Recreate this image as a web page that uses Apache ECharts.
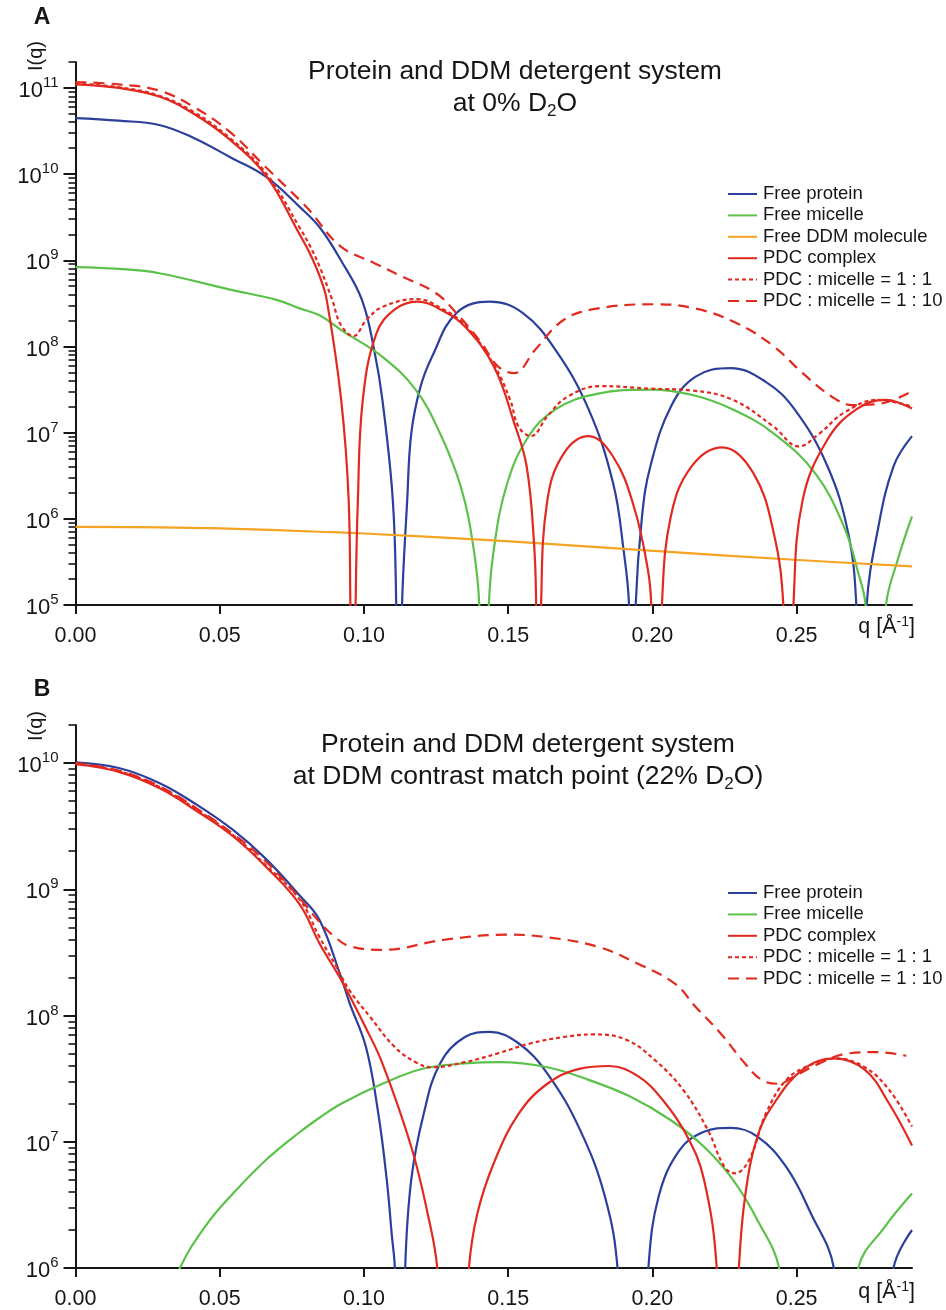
<!DOCTYPE html>
<html><head><meta charset="utf-8">
<script src="https://cdn.jsdelivr.net/npm/echarts@6/dist/echarts.min.js"></script>
<style>html,body{margin:0;padding:0;background:#fff}#c{width:946px;height:1310px}</style>
</head><body><div id="c"></div>
<script>
// ---------- axis tick definitions ----------
const xTicks = [0, 0.05, 0.10, 0.15, 0.20, 0.25];
const yExpA = [5, 6, 7, 8, 9, 10, 11];
const yExpB = [6, 7, 8, 9, 10];

// ---------- Panel A : 0% D2O ----------
const qA_protein = [0,0.015,0.029,0.041,0.0535,0.066,0.0777,0.0847,0.092,0.0993,0.1036,0.1064,0.110,0.1112,0.1121,0.1132,0.115,0.1164,0.1195,0.1236,0.1321,0.1436,0.155,0.1664,0.1779,0.1864,0.190,0.1919,0.193,0.1942,0.1964,0.1993,0.2064,0.215,0.2271,0.2393,0.2493,0.2607,0.2679,0.2707,0.2725,0.2743,0.2779,0.2836,0.29];
const iA_protein = [4.47e10,4.17e10,3.72e10,2.63e10,1.58e10,9.33e9,4.17e9,2.40e9,1.0e9,3.47e8,8.9e7,2.4e7,1.66e6,1e5,1e3,1e5,1.66e6,9.77e6,3.31e7,7.59e7,2.45e8,3.31e8,2.45e8,9.12e7,1.86e7,2.57e6,4.37e5,1e5,1e3,1e5,1.07e6,4.07e6,2.0e7,4.47e7,5.62e7,3.89e7,1.86e7,4.07e6,6.76e5,1e5,1e3,1e5,6.76e5,4.07e6,9.12e6];

const qA_micelle = [0,0.015,0.029,0.0535,0.0697,0.0779,0.0846,0.0921,0.1064,0.1179,0.1264,0.1336,0.1379,0.140,0.1417,0.1433,0.145,0.1493,0.1564,0.1664,0.1807,0.1993,0.2136,0.2279,0.2421,0.2564,0.2664,0.2714,0.2739,0.2775,0.281,0.285,0.29];
const iA_micelle = [8.32e8,7.94e8,7.08e8,4.57e8,3.47e8,2.75e8,2.30e8,1.55e8,7.59e7,3.16e7,9.77e6,2.34e6,4.79e5,1e5,1e3,1e5,4.37e5,2.34e6,8.32e6,1.86e7,2.82e7,3.16e7,2.75e7,1.86e7,9.77e6,3.39e6,8.13e5,2.34e5,1e5,1e3,1e5,3.31e5,1.07e6];

const qA_ddm = [0,0.03,0.05,0.0846,0.10,0.1493,0.1993,0.2493,0.29];
const iA_ddm = [8.07e5,7.94e5,7.76e5,7.08e5,6.76e5,5.50e5,4.27e5,3.35e5,2.80e5];

const qA_pdc = [0,0.015,0.029,0.041,0.0535,0.0663,0.0777,0.0811,0.0847,0.0871,0.0921,0.0947,0.0953,0.0962,0.0971,0.0979,0.0996,0.1043,0.1107,0.1185,0.127,0.135,0.145,0.1521,0.1564,0.159,0.1597,0.1605,0.1614,0.1636,0.1693,0.1779,0.1864,0.1936,0.1985,0.1996,0.2015,0.2033,0.2064,0.2136,0.2243,0.235,0.2421,0.2454,0.2471,0.2489,0.2521,0.2607,0.2707,0.2807,0.29];
const iA_pdc = [1.10e11,1.0e11,7.94e10,5.01e10,2.51e10,9.33e9,2.0e9,1.23e9,6.46e8,3.47e8,2.4e7,1.66e6,1e5,1e3,1e5,1.66e6,2.4e7,1.41e8,2.69e8,3.31e8,2.63e8,1.70e8,5.89e7,1.29e7,4.07e6,5.0e5,1e5,1e3,1e5,1.66e6,5.75e6,9.12e6,5.25e6,1.38e6,2.5e5,1e5,1e3,1e5,1.07e6,4.07e6,6.76e6,3.39e6,6.76e5,1e5,1e3,1e5,1.66e6,8.32e6,1.86e7,2.40e7,1.91e7];

const qA_pdc11 = [0,0.015,0.029,0.041,0.0535,0.0663,0.0777,0.0811,0.0847,0.089,0.092,0.0964,0.1007,0.1064,0.1185,0.127,0.135,0.145,0.1507,0.1536,0.1579,0.1636,0.1707,0.1821,0.1993,0.2136,0.2279,0.2421,0.2507,0.2579,0.2664,0.2779,0.29];
const iA_pdc11 = [1.12e11,1.02e11,8.13e10,5.25e10,2.63e10,1.0e10,2.40e9,1.51e9,8.32e8,3.47e8,1.78e8,1.32e8,2.0e8,2.88e8,3.55e8,2.75e8,1.78e8,6.17e7,2.40e7,1.17e7,9.12e6,1.55e7,2.63e7,3.47e7,3.24e7,3.09e7,2.40e7,1.17e7,6.92e6,9.77e6,1.70e7,2.40e7,2.0e7];

const qA_pdc110 = [0,0.015,0.029,0.041,0.0535,0.066,0.0777,0.0811,0.0919,0.1035,0.1133,0.1249,0.132,0.1407,0.1464,0.1521,0.1593,0.1693,0.1807,0.2007,0.215,0.2293,0.2421,0.2521,0.2621,0.2693,0.2779,0.29];
const iA_pdc110 = [1.17e11,1.10e11,9.33e10,6.03e10,3.09e10,1.20e10,5.01e9,3.80e9,1.45e9,9.33e8,6.46e8,4.17e8,2.45e8,1.10e8,5.89e7,4.90e7,9.12e7,2.04e8,2.75e8,3.09e8,2.75e8,1.86e8,1.0e8,4.90e7,2.63e7,2.09e7,2.14e7,3.02e7];

// ---------- Panel B : 22% D2O ----------
const qB_protein = [0,0.015,0.0292,0.042,0.0546,0.066,0.0777,0.0846,0.0921,0.095,0.1007,0.105,0.1079,0.1097,0.1107,0.1125,0.1143,0.1164,0.1207,0.1264,0.135,0.1436,0.1536,0.1636,0.175,0.1836,0.1879,0.1929,0.1986,0.2021,0.2093,0.2179,0.2271,0.2364,0.2464,0.255,0.2629,0.273,0.2836,0.29];
const iB_protein = [1.01e10,9.12e9,6.92e9,4.68e9,2.95e9,1.74e9,8.91e8,5.70e8,2.0e8,1.26e8,5.62e7,1.66e7,5.01e6,1.78e6,1e6,1e4,1e6,5.01e6,1.66e7,4.17e7,6.76e7,7.41e7,6.03e7,3.47e7,1.23e7,3.63e6,1e6,1e4,1e6,3.63e6,8.51e6,1.20e7,1.29e7,1.10e7,6.31e6,2.69e6,1e6,1e4,1e6,2.0e6];

const qB_micelle = [0.03,0.0362,0.045,0.0546,0.0662,0.0779,0.0846,0.0921,0.1064,0.1207,0.135,0.1471,0.1636,0.1779,0.1921,0.2064,0.2179,0.2279,0.2364,0.2439,0.2575,0.2714,0.2807,0.29];
const iB_micelle = [4.0e5,1e6,2.14e6,3.89e6,7.24e6,1.2e7,1.55e7,2.0e7,2.88e7,3.80e7,4.17e7,4.27e7,3.89e7,3.09e7,2.29e7,1.48e7,9.12e6,5.01e6,2.40e6,1e6,1e4,1e6,2.14e6,3.89e6];

const qB_pdc = [0,0.015,0.0292,0.042,0.0546,0.066,0.0777,0.0846,0.0921,0.1007,0.1064,0.1164,0.1221,0.1254,0.131,0.1364,0.1393,0.145,0.1536,0.1636,0.175,0.185,0.195,0.2036,0.2121,0.2179,0.2223,0.226,0.2300,0.2321,0.2364,0.2421,0.2521,0.2629,0.2736,0.2821,0.29];
const iB_pdc = [9.77e9,8.51e9,6.31e9,4.17e9,2.63e9,1.51e9,7.59e8,3.72e8,1.91e8,7.94e7,4.17e7,9.12e6,2.69e6,1e6,1e4,1e6,2.69e6,6.76e6,1.66e7,2.88e7,3.80e7,3.98e7,3.31e7,2.14e7,1.10e7,5.01e6,1e6,1e4,1e6,3.63e6,1.10e7,2.0e7,3.72e7,4.57e7,3.72e7,2.0e7,9.33e6];

const qB_pdc11 = [0,0.015,0.0292,0.042,0.0546,0.066,0.0777,0.0846,0.0901,0.095,0.1021,0.1107,0.1179,0.1236,0.135,0.1464,0.1579,0.1693,0.1793,0.1907,0.2007,0.2107,0.2193,0.225,0.2286,0.2336,0.2393,0.2464,0.255,0.2636,0.2736,0.2821,0.29];
const iB_pdc11 = [9.89e9,8.61e9,6.46e9,4.27e9,2.69e9,1.55e9,8.32e8,4.17e8,2.51e8,1.58e8,9.77e7,5.62e7,4.27e7,3.89e7,4.27e7,5.01e7,6.03e7,6.76e7,7.08e7,6.46e7,4.47e7,2.57e7,1.23e7,6.31e6,5.62e6,7.24e6,1.66e7,3.09e7,4.07e7,4.57e7,3.89e7,2.57e7,1.32e7];

const qB_pdc110 = [0,0.015,0.0292,0.042,0.0546,0.066,0.0777,0.0846,0.09,0.0949,0.1063,0.1278,0.1493,0.1635,0.181,0.195,0.2079,0.215,0.2236,0.2321,0.2379,0.2436,0.2493,0.2579,0.2679,0.2779,0.288];
const iB_pdc110 = [1.0e10,8.71e9,6.53e9,4.37e9,2.75e9,1.66e9,8.51e8,5.50e8,4.17e8,3.55e8,3.31e8,3.98e8,4.37e8,4.17e8,3.51e8,2.57e8,1.78e8,1.17e8,7.24e7,4.17e7,3.09e7,2.88e7,3.31e7,4.17e7,5.01e7,5.13e7,4.79e7];

// ---------- styling ----------
const FONT = '"Liberation Sans", Arial, Helvetica, sans-serif';
const INK = '#161616';
const C_BLUE = '#2b3f9c', C_GREEN = '#5cc14a', C_ORANGE = '#f5a322', C_RED = '#e2291f';
const DOT = [4, 3], DASH = [11, 7];

function pairs(q, v) { return q.map((x, i) => [x, v[i]]); }

function logAxes(gridIndex, exps, maxV) {
  const majors = exps.map(e => Math.pow(10, e));
  const minV = majors[0];
  const minors = [];
  exps.forEach(e => { for (let m = 2; m <= 9; m++) { const v = m * Math.pow(10, e); if (v <= maxV) minors.push(v); } });
  return [{
    type: 'log', logBase: 10, gridIndex, min: minV, max: maxV, position: 'left',
    axisLine: { show: true, onZero: false, lineStyle: { color: INK, width: 2 } },
    axisTick: { show: true, length: 12, lineStyle: { color: INK, width: 2 }, customValues: majors },
    axisLabel: {
      show: true, customValues: majors, margin: 17, color: INK,
      formatter: v => '{b|10}{s|' + Math.round(Math.log10(v)) + '}',
      rich: {
        b: { fontSize: 22, fontFamily: FONT, color: INK, lineHeight: 25, padding: [6, 0, 0, 0] },
        s: { fontSize: 15, fontFamily: FONT, color: INK, lineHeight: 15, verticalAlign: 'top' }
      }
    },
    splitLine: { show: false }, minorTick: { show: false }
  }, {
    type: 'log', logBase: 10, gridIndex, min: minV, max: maxV, position: 'left',
    axisLine: { show: false, onZero: false },
    axisTick: { show: true, length: 7, lineStyle: { color: INK, width: 1.6 }, customValues: minors },
    axisLabel: { show: false }, splitLine: { show: false }, minorTick: { show: false }
  }];
}

function xAxis(gridIndex) {
  return {
    type: 'value', gridIndex, min: 0, max: 0.29,
    axisLine: { show: true, onZero: false, lineStyle: { color: INK, width: 2 } },
    axisTick: { show: true, length: 9, lineStyle: { color: INK, width: 2 }, customValues: xTicks },
    axisLabel: { customValues: xTicks, formatter: v => v.toFixed(2), fontSize: 21.5, fontFamily: FONT, color: INK, margin: 20 },
    splitLine: { show: false }
  };
}

function line(name, data, xi, yi, color, type) {
  return {
    type: 'line', name, data, xAxisIndex: xi, yAxisIndex: yi, symbol: 'none',
    smooth: 0.4, clip: true, silent: true,
    lineStyle: { color, width: 2.2, type: type || 'solid' },
    itemStyle: { color }
  };
}

const N_PROT = 'Free protein', N_MIC = 'Free micelle', N_DDM = 'Free DDM molecule', N_PDC = 'PDC complex',
      N_11 = 'PDC : micelle = 1 : 1', N_110 = 'PDC : micelle = 1 : 10';

const series = [
  line(N_PROT, pairs(qA_protein, iA_protein), 0, 0, C_BLUE),
  line(N_MIC, pairs(qA_micelle, iA_micelle), 0, 0, C_GREEN),
  line(N_DDM, pairs(qA_ddm, iA_ddm), 0, 0, C_ORANGE),
  line(N_PDC, pairs(qA_pdc, iA_pdc), 0, 0, C_RED),
  line(N_11, pairs(qA_pdc11, iA_pdc11), 0, 0, C_RED, DOT),
  line(N_110, pairs(qA_pdc110, iA_pdc110), 0, 0, C_RED, DASH),
  line(N_PROT, pairs(qB_protein, iB_protein), 1, 2, C_BLUE),
  line(N_MIC, pairs(qB_micelle, iB_micelle), 1, 2, C_GREEN),
  line(N_PDC, pairs(qB_pdc, iB_pdc), 1, 2, C_RED),
  line(N_11, pairs(qB_pdc11, iB_pdc11), 1, 2, C_RED, DOT),
  line(N_110, pairs(qB_pdc110, iB_pdc110), 1, 2, C_RED, DASH)
];

function legend(top, names) {
  return {
    orient: 'vertical', left: 722, top, data: names, selectedMode: false,
    itemWidth: 29, itemHeight: 14, itemGap: 0,
    itemStyle: { opacity: 0 },
    textStyle: { fontSize: 18.5, fontFamily: FONT, color: INK, lineHeight: 21.4, padding: [0, 0, 0, 1] }
  };
}

function txt(x, y, text, size, opts) {
  return Object.assign({
    type: 'text', x, y, silent: true,
    style: Object.assign({ text, fontSize: size, fontFamily: FONT, fill: INK, align: 'center', verticalAlign: 'middle' }, (opts && opts.style) || {})
  }, (opts && opts.el) || {});
}

const supRich = { s: { fontSize: 14, fontFamily: FONT, fill: INK, lineHeight: 14, verticalAlign: 'top' }, b: { fontSize: 21.5, fontFamily: FONT, fill: INK, lineHeight: 24 } };
const titleRich = {
  t: { fontSize: 26.5, fontFamily: FONT, fill: INK, lineHeight: 32 },
  d: { fontSize: 17, fontFamily: FONT, fill: INK, lineHeight: 17, verticalAlign: 'bottom' }
};

const graphic = [
  txt(42, 18, 'A', 23, { style: { fontWeight: 'bold' } }),
  txt(42, 690, 'B', 23, { style: { fontWeight: 'bold' } }),
  txt(36, 56, 'I(q)', 20, { el: { rotation: Math.PI / 2 } }),
  txt(36, 726, 'I(q)', 20, { el: { rotation: Math.PI / 2 } }),
  txt(515, 88, '{t|Protein and DDM detergent system}\n{t|at 0% D}{d|2}{t|O}', 26.5, { style: { rich: titleRich } }),
  txt(528, 761, '{t|Protein and DDM detergent system}\n{t|at DDM contrast match point (22% D}{d|2}{t|O)}', 26.5, { style: { rich: titleRich } }),
  txt(915, 627, '{b|q [Å}{s|-1}{b|]}', 21.5, { style: { rich: supRich, align: 'right' } }),
  txt(915, 1292, '{b|q [Å}{s|-1}{b|]}', 21.5, { style: { rich: supRich, align: 'right' } })
];

const option = {
  animation: false,
  backgroundColor: '#ffffff',
  textStyle: { fontFamily: FONT },
  grid: [
    { left: 75.5, top: 62, width: 836.5, height: 543, containLabel: false },
    { left: 75.5, top: 725, width: 836.5, height: 543, containLabel: false }
  ],
  xAxis: [xAxis(0), xAxis(1)],
  yAxis: [...logAxes(0, yExpA, 2e11), ...logAxes(1, yExpB, 2e10)],
  legend: [
    legend(178.3, [N_PROT, N_MIC, N_DDM, N_PDC, N_11, N_110]),
    legend(877.3, [N_PROT, N_MIC, N_PDC, N_11, N_110])
  ],
  graphic,
  series
};

const chart = echarts.init(document.getElementById('c'), null, { renderer: 'canvas' });
chart.setOption(option);
</script>
</body></html>
